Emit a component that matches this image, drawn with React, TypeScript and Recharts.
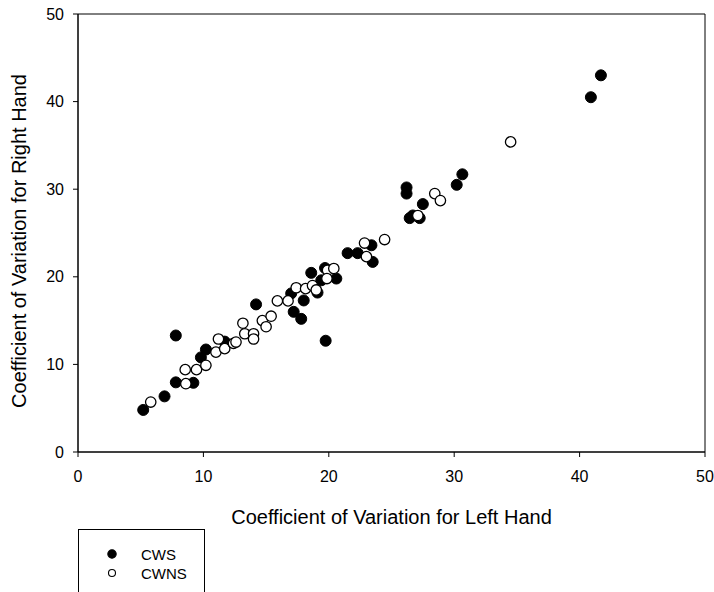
import {
  ReferenceArea,
  Scatter,
  ScatterChart,
  XAxis,
  YAxis,
} from "recharts";

// CWS — filled markers (left hand CV, right hand CV)
const cwsLeft = [
  5.2, 6.9, 7.8, 9.2, 7.8, 9.8, 10.2, 11.7, 14.2, 17.0, 17.2, 17.8, 18.0,
  19.1, 18.6, 19.7, 19.4, 20.6, 19.75, 21.5, 22.3, 23.4, 23.5, 26.2, 26.2,
  27.5, 26.45, 26.7, 27.25, 30.65, 30.2, 41.7, 40.9,
];
const cwsRight = [
  4.8, 6.35, 7.95, 7.9, 13.3, 10.8, 11.7, 12.6, 16.85, 18.1, 16.0, 15.2, 17.3,
  18.2, 20.45, 21.0, 19.6, 19.8, 12.7, 22.7, 22.7, 23.6, 21.7, 30.2, 29.5,
  28.3, 26.7, 27.0, 26.7, 31.7, 30.5, 43.0, 40.5,
];

// CWNS — open markers
const cwnsLeft = [
  5.8, 8.6, 8.55, 9.45, 10.2, 11.0, 11.2, 11.7, 12.4, 12.6, 13.15, 13.3, 14.0,
  14.0, 14.7, 15.0, 15.4, 15.9, 16.75, 17.4, 18.15, 18.7, 19.0, 19.9, 19.85,
  20.4, 22.85, 23.0, 24.45, 27.1, 28.45, 28.9, 34.5,
];
const cwnsRight = [
  5.7, 7.8, 9.4, 9.4, 9.9, 11.4, 12.9, 11.8, 12.4, 12.55, 14.7, 13.5, 13.5,
  12.9, 15.0, 14.3, 15.5, 17.25, 17.25, 18.75, 18.65, 19.0, 18.5, 20.75, 19.8,
  20.95, 23.85, 22.3, 24.25, 27.0, 29.5, 28.7, 35.4,
];

const ticks = [0, 10, 20, 30, 40, 50];
const xTitle = "Coefficient of Variation for Left Hand";
const yTitle = "Coefficient of Variation for Right Hand";
const seriesNames = ["CWS", "CWNS"];

const cws = cwsLeft.map((x, i) => ({ x, y: cwsRight[i] }));
const cwns = cwnsLeft.map((x, i) => ({ x, y: cwnsRight[i] }));

const FONT = "'Liberation Sans', Arial, sans-serif";
const TICK = { fill: "#000", fontSize: 16, fontFamily: FONT };

const filledDot = (p: any) => (
  <circle cx={p.cx} cy={p.cy} r={5.5} fill="#000" stroke="#000" strokeWidth={1} />
);
const openDot = (p: any) => (
  <circle cx={p.cx} cy={p.cy} r={5.2} fill="#fff" stroke="#000" strokeWidth={1.3} />
);

function YTitle(props: any) {
  const vb = props.viewBox || {};
  const cx = vb.x + 18.5;
  const cy = vb.y + vb.height / 2 + 8;
  return (
    <text
      x={cx}
      y={cy}
      transform={`rotate(-90 ${cx} ${cy})`}
      textAnchor="middle"
      dominantBaseline="central"
      fontSize={20}
      fontFamily={FONT}
      fill="#000"
    >
      {yTitle}
    </text>
  );
}

export default function App() {
  return (
    <div
      style={{
        position: "absolute",
        left: 0,
        top: 0,
        width: 714,
        height: 592,
        overflow: "hidden",
        background: "#fff",
      }}
    >
      <ScatterChart
        width={714}
        height={592}
        margin={{ top: 14, right: 9, bottom: 68, left: 0 }}
      >
        <XAxis
          type="number"
          dataKey="x"
          domain={[0, 50]}
          ticks={ticks}
          height={72}
          tick={TICK}
          tickSize={5}
          tickMargin={14}
          stroke="#000"
          label={{
            value: xTitle,
            position: "insideBottom",
            offset: 0,
            fontSize: 20,
            fontFamily: FONT,
            fill: "#000",
          }}
        />
        <YAxis
          type="number"
          dataKey="y"
          domain={[0, 50]}
          ticks={ticks}
          width={78}
          tick={TICK}
          tickSize={5}
          tickMargin={9}
          stroke="#000"
          label={<YTitle />}
        />
        <ReferenceArea
          x1={0}
          x2={50}
          y1={0}
          y2={50}
          fill="none"
          stroke="#000"
          strokeWidth={1}
        />
        <Scatter
          name={seriesNames[0]}
          data={cws}
          shape={filledDot}
          isAnimationActive={false}
        />
        <Scatter
          name={seriesNames[1]}
          data={cwns}
          shape={openDot}
          isAnimationActive={false}
        />
      </ScatterChart>
      <div
        style={{
          position: "absolute",
          left: 78,
          top: 529,
          width: 127,
          height: 90,
          border: "1px solid #000",
          boxSizing: "border-box",
          fontFamily: FONT,
          fontSize: 15,
          color: "#000",
        }}
      >
        {seriesNames.map((name, i) => (
          <div
            key={name}
            style={{
              position: "absolute",
              left: 26,
              top: 15 + i * 19,
              height: 18,
              display: "flex",
              alignItems: "center",
            }}
          >
            <svg width={14} height={14} style={{ marginRight: 22 }}>
              <circle
                cx={7}
                cy={7}
                r={i === 0 ? 4.2 : 3.5}
                fill={i === 0 ? "#000" : "#fff"}
                stroke="#000"
                strokeWidth={1.1}
              />
            </svg>
            <span>{name}</span>
          </div>
        ))}
      </div>
    </div>
  );
}
